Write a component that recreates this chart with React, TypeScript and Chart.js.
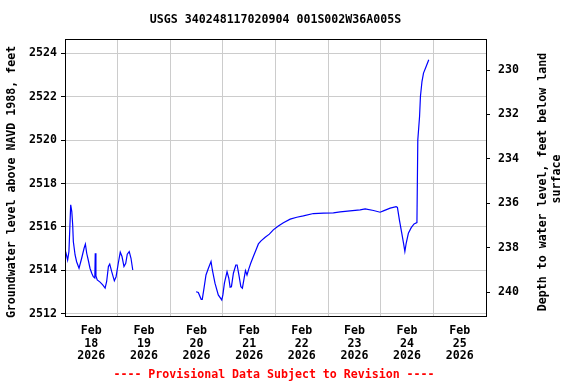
import React, { useEffect, useRef } from "react";
import { Chart, registerables } from "chart.js";

Chart.register(...registerables);

// Hours since Feb 18 2026 00:00
const seg1Hours = [0.3, 1.2, 1.8, 2.6, 3.1, 3.5, 3.8, 4.6, 5.3, 6.4, 7.6, 8.7, 9.3, 9.9, 10.6, 11.4, 12.2, 12.9, 13.6, 13.8, 14.1, 14.7, 16.0, 17.2, 18.3, 19.0, 19.8, 20.4, 21.3, 22.5, 23.3, 24.3, 25.2, 26.0, 26.9, 27.7, 28.4, 29.3, 30.1, 30.9];
const seg1Levels = [2514.87, 2514.48, 2514.87, 2517.02, 2516.71, 2516.10, 2515.33, 2514.71, 2514.40, 2514.10, 2514.56, 2515.02, 2515.21, 2514.79, 2514.48, 2514.10, 2513.87, 2513.71, 2513.65, 2514.79, 2513.75, 2513.56, 2513.46, 2513.33, 2513.18, 2513.49, 2514.18, 2514.29, 2513.94, 2513.52, 2513.71, 2514.33, 2514.84, 2514.64, 2514.18, 2514.33, 2514.75, 2514.87, 2514.56, 2514.02];

const seg2Hours = [59.8, 60.8, 62.1, 62.6, 63.4, 64.3, 65.4, 66.6, 67.2, 68.4, 69.9, 71.5, 72.0, 72.7, 73.9, 74.7, 75.3, 75.9, 76.8, 77.9, 78.5, 79.3, 80.2, 80.9, 81.7, 82.3, 83.0, 83.8, 84.7, 85.9, 87.1, 88.2, 89.4, 91.3, 93.2, 95.0, 97.3, 99.6, 102.7, 105.7, 108.7, 113.3, 117.9, 122.4, 125.5, 130.0, 134.6, 136.9, 140.7, 143.7, 145.2, 148.3, 151.0, 151.6, 152.5, 153.6, 154.4, 155.0, 155.6, 156.6, 157.9, 159.2, 160.5, 160.9, 161.7, 162.1, 162.8, 163.5, 164.7, 165.9];
const seg2Levels = [2513.02, 2512.98, 2512.67, 2512.67, 2513.18, 2513.79, 2514.10, 2514.41, 2514.02, 2513.41, 2512.87, 2512.64, 2512.87, 2513.41, 2513.94, 2513.64, 2513.23, 2513.25, 2513.87, 2514.25, 2514.25, 2513.79, 2513.25, 2513.18, 2513.64, 2513.99, 2513.79, 2514.06, 2514.33, 2514.64, 2514.94, 2515.22, 2515.36, 2515.53, 2515.67, 2515.87, 2516.05, 2516.20, 2516.36, 2516.45, 2516.51, 2516.62, 2516.64, 2516.65, 2516.70, 2516.74, 2516.79, 2516.83, 2516.76, 2516.68, 2516.74, 2516.87, 2516.94, 2516.90, 2516.33, 2515.71, 2515.25, 2514.87, 2515.25, 2515.71, 2515.97, 2516.14, 2516.20, 2520.01, 2521.09, 2522.01, 2522.70, 2523.09, 2523.39, 2523.70];

const xTickHours = [0, 12, 24, 36, 48, 60, 72, 84, 96, 108, 120, 132, 144, 156, 168, 180, 192];
const dayLabels = ["18", "19", "20", "21", "22", "23", "24", "25"];
const monthLabel = "Feb";
const yearLabel = "2026";
const leftTicks = [2512, 2514, 2516, 2518, 2520, 2522, 2524];
const rightTicks = [230, 232, 234, 236, 238, 240];

const titleText = "USGS 340248117020904 001S002W36A005S";
const leftTitle = "Groundwater level above NAVD 1988, feet";
const rightTitle1 = "Depth to water level, feet below land";
const rightTitle2 = "surface";
const noteText = "---- Provisional Data Subject to Revision ----";

const FONT = "'DejaVu Sans Mono', monospace";
const FS = 11.6;

export default function App() {
  const ref = useRef<HTMLCanvasElement | null>(null);
  useEffect(() => {
    document.body.style.margin = "0";
    const canvas = ref.current!;
    const points: any[] = [];
    seg1Hours.forEach((h, i) => points.push({ x: h, y: seg1Levels[i] }));
    points.push({ x: 45, y: null });
    seg2Hours.forEach((h, i) => points.push({ x: h, y: seg2Levels[i] }));

    const textPlugin = {
      id: "texts",
      afterDraw(chart: any) {
        const ctx = chart.ctx;
        const a = chart.chartArea;
        ctx.save();
        ctx.strokeStyle = "#000";
        ctx.lineWidth = 1;
        ctx.strokeRect(Math.round(a.left) + 0.5, Math.round(a.top) + 0.5, Math.round(a.right - a.left), Math.round(a.bottom - a.top));
        ctx.fillStyle = "#000";
        ctx.textAlign = "center";
        ctx.textBaseline = "middle";
        ctx.font = `bold ${FS}px ${FONT}`;
        ctx.fillText(titleText, (a.left + a.right) / 2, 20);
        ctx.save();
        ctx.translate(12, 182);
        ctx.rotate(-Math.PI / 2);
        ctx.fillText(leftTitle, 0, 0);
        ctx.restore();
        ctx.save();
        ctx.translate(543, 182);
        ctx.rotate(-Math.PI / 2);
        ctx.fillText(rightTitle1, 0, 0);
        ctx.restore();
        ctx.save();
        ctx.translate(557, 179);
        ctx.rotate(-Math.PI / 2);
        ctx.fillText(rightTitle2, 0, 0);
        ctx.restore();
        ctx.fillStyle = "#ff0000";
        ctx.fillText(noteText, 274, 375);
        ctx.restore();
      },
    };

    const chart = new Chart(canvas, {
      type: "line",
      data: {
        datasets: [
          {
            data: points,
            borderColor: "#0000ff",
            borderWidth: 1.2,
            pointRadius: 0,
            spanGaps: false,
            tension: 0,
            yAxisID: "y",
          },
        ],
      },
      options: {
        animation: false,
        responsive: false,
        maintainAspectRatio: false,
        layout: { padding: { top: 39, left: 0, right: 0, bottom: 0 } },
        plugins: { legend: { display: false }, tooltip: { enabled: false }, title: { display: false } },
        scales: {
          x: {
            type: "linear",
            min: 0,
            max: 192,
            afterBuildTicks: (s: any) => {
              s.ticks = xTickHours.map((v) => ({ value: v }));
            },
            afterFit: (s: any) => {
              s.height = 68;
            },
            border: { display: false },
            grid: {
              color: (c: any) => (c.tick && c.tick.value % 24 === 0 ? "#cccccc" : "rgba(0,0,0,0)"),
              lineWidth: 1,
              drawTicks: false,
            },
            ticks: {
              autoSkip: false,
              maxRotation: 0,
              padding: 8,
              color: "#000",
              font: { family: FONT, size: FS, weight: "bold", lineHeight: 1.12 },
              callback: (v: any) => {
                const n = Number(v);
                if (n % 24 !== 12) return "";
                const d = dayLabels[(n - 12) / 24];
                return [monthLabel, d, yearLabel];
              },
            },
          },
          y: {
            type: "linear",
            position: "left",
            min: 2511.9,
            max: 2524.66,
            afterBuildTicks: (s: any) => {
              s.ticks = leftTicks.map((v) => ({ value: v }));
            },
            afterFit: (s: any) => {
              s.width = 65;
            },
            border: { display: false },
            grid: { color: "#cccccc", lineWidth: 1, tickColor: "#000", tickLength: 4 },
            ticks: {
              padding: 4,
              color: "#000",
              font: { family: FONT, size: FS, weight: "bold" },
              callback: (v: any) => String(v),
            },
          },
          y2: {
            type: "linear",
            position: "right",
            reverse: true,
            min: 228.6,
            max: 241.08,
            afterBuildTicks: (s: any) => {
              s.ticks = rightTicks.map((v) => ({ value: v }));
            },
            afterFit: (s: any) => {
              s.width = 90;
            },
            border: { display: false },
            grid: { drawOnChartArea: false, color: "#000", tickColor: "#000", tickLength: 4 },
            ticks: {
              padding: 8,
              color: "#000",
              font: { family: FONT, size: FS, weight: "bold" },
              callback: (v: any) => String(v),
            },
          },
        },
      } as any,
      plugins: [textPlugin],
    });
    return () => chart.destroy();
  }, []);
  return (
    <div style={{ width: 576, height: 384 }}>
      <canvas ref={ref} width={576} height={384} style={{ display: "block" }} />
    </div>
  );
}
